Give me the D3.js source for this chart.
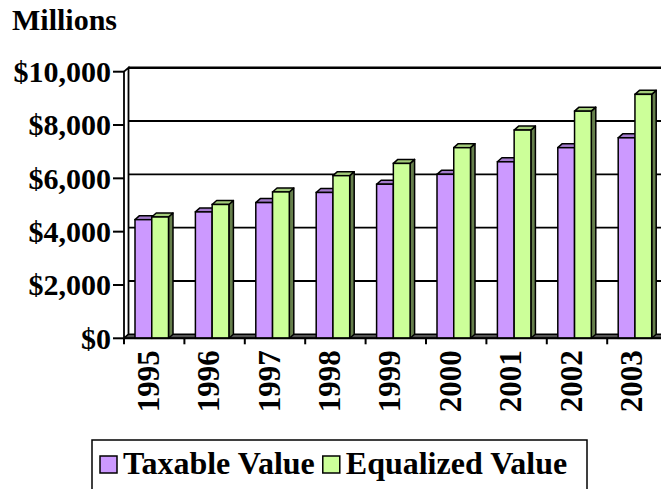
<!DOCTYPE html>
<html>
<head>
<meta charset="utf-8">
<script src="https://cdn.jsdelivr.net/npm/d3@7"></script>
<style>
  body { margin: 0; background: #fff; }
  svg { display: block; font-family: "Liberation Serif", "Times New Roman", serif; font-weight: bold; }
</style>
</head>
<body>
<div id="chart"></div>
<script>
// data (millions of dollars)
let years = ["1995", "1996", "1997", "1998", "1999", "2000", "2001", "2002", "2003"];
let taxable = [4450, 4740, 5090, 5470, 5780, 6150, 6620, 7150, 7520];
let equalized = [4550, 5020, 5490, 6100, 6560, 7150, 7810, 8520, 9150];
let seriesNames = ["Taxable Value", "Equalized Value"];
let yTicks = [0, 2000, 4000, 6000, 8000, 10000];

let width = 661, height = 489;
let fontSize = 30;
// 3d depth offset
let dx = 4.5, dy = 4;

// front face colour, top, side
let colors = {
    "Taxable Value":   { front: "#CC99FF", top: "#A37ACC", side: "#664C7F" },
    "Equalized Value": { front: "#CCFF99", top: "#A3CC7A", side: "#667F4C" }
};

let svg = d3.select("#chart").append("svg")
    .attr("width", width)
    .attr("height", height);

let x = d3.scaleBand()
    .domain(years)
    .range([124, 124 + 9 * 60.4]);

let x1 = d3.scaleBand()
    .domain(seriesNames)
    .range([11, 44.5]);

let y = d3.scaleLinear()
    .domain([0, 10000])
    .range([338.3, 71.7]);

let data = years.map((yr, i) => ({ year: yr, values: [
    { name: seriesNames[0], value: taxable[i] },
    { name: seriesNames[1], value: equalized[i] }
]}));

// back wall + gridlines
let xLeft = x.range()[0], xRight = x.range()[1];
svg.selectAll(".grid")
    .data(yTicks.filter(d => d > 0))
    .enter().append("line")
    .attr("class", "grid")
    .attr("x1", xLeft + dx)
    .attr("x2", xRight + dx + 10)
    .attr("y1", d => y(d) - dy)
    .attr("y2", d => y(d) - dy)
    .attr("stroke", "#000")
    .attr("stroke-width", d => d == 10000 ? 2.5 : 1.8);

// left wall
svg.append("polygon")
    .attr("points", [[xLeft, y(0)], [xLeft, y(10000)], [xLeft + dx, y(10000) - dy], [xLeft + dx, y(0) - dy]].join(" "))
    .attr("fill", "#fff")
    .attr("stroke", "#000")
    .attr("stroke-width", 1.8);

// floor
svg.append("polygon")
    .attr("points", [[xLeft, y(0)], [xRight + 20, y(0)], [xRight + 20, y(0) - dy], [xLeft + dx, y(0) - dy]].join(" "))
    .attr("fill", "#555")
    .attr("stroke", "#000")
    .attr("stroke-width", 1.5);

// bars
let groups = svg.selectAll(".group")
    .data(data)
    .enter().append("g")
    .attr("class", "group")
    .attr("transform", d => "translate(" + x(d.year) + ",0)");

let bars = groups.selectAll(".bar")
    .data(d => d.values)
    .enter().append("g")
    .attr("class", "bar");

let bw = x1.bandwidth();

bars.append("polygon") // side
    .attr("points", d => {
        let bx = x1(d.name) + bw, top = y(d.value), base = y(0);
        return [[bx, base], [bx, top], [bx + dx, top - dy], [bx + dx, base - dy]].join(" ");
    })
    .attr("fill", d => colors[d.name].side)
    .attr("stroke", "#000")
    .attr("stroke-width", 1.5)
    .attr("stroke-linejoin", "round");

bars.append("polygon") // top
    .attr("points", d => {
        let bx = x1(d.name), top = y(d.value);
        return [[bx, top], [bx + dx, top - dy], [bx + bw + dx, top - dy], [bx + bw, top]].join(" ");
    })
    .attr("fill", d => colors[d.name].top)
    .attr("stroke", "#000")
    .attr("stroke-width", 1.5)
    .attr("stroke-linejoin", "round");

bars.append("rect") // front
    .attr("x", d => x1(d.name))
    .attr("y", d => y(d.value))
    .attr("width", bw)
    .attr("height", d => y(0) - y(d.value))
    .attr("fill", d => colors[d.name].front)
    .attr("stroke", "#000")
    .attr("stroke-width", 1.5);

// x axis line and ticks
svg.append("line")
    .attr("x1", xLeft).attr("x2", width)
    .attr("y1", y(0)).attr("y2", y(0))
    .attr("stroke", "#000").attr("stroke-width", 2);

svg.selectAll(".xtick")
    .data(years)
    .enter().append("line")
    .attr("class", "xtick")
    .attr("x1", d => x(d)).attr("x2", d => x(d))
    .attr("y1", y(0)).attr("y2", y(0) + 6)
    .attr("stroke", "#000").attr("stroke-width", 2);

svg.selectAll(".xlabel")
    .data(years)
    .enter().append("text")
    .attr("class", "xlabel")
    .attr("transform", d => "translate(" + (x(d) + (x1.range()[0] + x1.range()[1]) / 2 + 7) + "," + (y(0) + 12) + ") rotate(-90)")
    .attr("text-anchor", "end")
    .style("font-size", (fontSize + 1) + "px")
    .text(d => d);

// y axis ticks and labels
svg.selectAll(".ytick")
    .data(yTicks)
    .enter().append("line")
    .attr("class", "ytick")
    .attr("x1", xLeft - 11).attr("x2", xLeft)
    .attr("y1", d => y(d)).attr("y2", d => y(d))
    .attr("stroke", "#000").attr("stroke-width", 2);

svg.selectAll(".ylabel")
    .data(yTicks)
    .enter().append("text")
    .attr("class", "ylabel")
    .attr("x", xLeft - 13)
    .attr("y", d => y(d))
    .attr("dy", "0.34em")
    .attr("text-anchor", "end")
    .style("font-size", fontSize + "px")
    .text(d => "$" + d3.format(",")(d));

svg.append("text")
    .attr("x", 12)
    .attr("y", 30)
    .style("font-size", fontSize + "px")
    .text("Millions");

// legend
let legend = svg.append("g");
legend.append("rect")
    .attr("x", 92).attr("y", 440)
    .attr("width", 495).attr("height", 70)
    .attr("fill", "#fff")
    .attr("stroke", "#000")
    .attr("stroke-width", 1.5);

let lx = 100;
seriesNames.forEach(name => {
    legend.append("rect")
        .attr("x", lx).attr("y", 456)
        .attr("width", 17).attr("height", 17)
        .attr("fill", colors[name].front)
        .attr("stroke", "#000")
        .attr("stroke-width", 1.5);
    let t = legend.append("text")
        .attr("x", lx + 23)
        .attr("y", 474)
        .style("font-size", (fontSize + 2) + "px")
        .text(name);
    lx += 23 + t.node().getComputedTextLength() + 8;
});
</script>
</body>
</html>
